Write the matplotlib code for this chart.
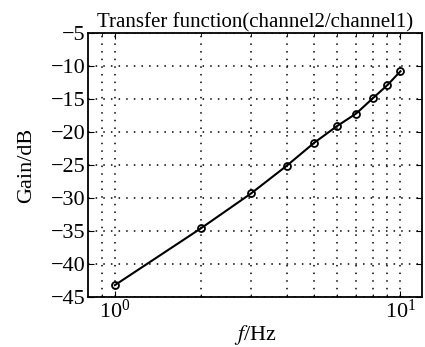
import numpy as np
import matplotlib
matplotlib.use("Agg")
import matplotlib.pyplot as plt
from matplotlib.ticker import LogLocator, NullFormatter

# frequency points (Hz) and measured gain (dB)
freq = [1, 2, 3, 4, 5, 6, 7, 8, 9, 10]
gain = [-43.2, -34.6, -29.3, -25.1, -21.6, -19.1, -17.2, -14.9, -12.9, -10.8]
yticks = [-45, -40, -35, -30, -25, -20, -15, -10, -5]

plt.rcParams["font.family"] = ["Liberation Serif", "DejaVu Serif"]
plt.rcParams["mathtext.fontset"] = "stix"
plt.rcParams["axes.unicode_minus"] = True

fig = plt.figure(figsize=(4.25, 3.47), dpi=100, facecolor="w")
ax = fig.add_axes([0.207, 0.144, 0.786, 0.761])

ax.plot(freq, gain, color="k", lw=1.5, marker="o", ms=5, mfc="none", mec="k", mew=1.3)

ax.set_xscale("log")
ax.set_xlim(0.805, 11.9)
ax.set_ylim(-45, -5)
ax.set_yticks(yticks)
ax.xaxis.set_minor_locator(LogLocator(base=10, subs=np.arange(2, 10)))
ax.xaxis.set_minor_formatter(NullFormatter())

ax.grid(which="major", color="k", linestyle=(0, (1, 4)), lw=1.1)
ax.grid(which="minor", axis="x", color="k", linestyle=(0, (1, 4)), lw=1.1)

ax.tick_params(which="both", direction="in", top=True, right=True, labelsize=16, pad=2)
ax.tick_params(which="major", length=4, width=0.8)
ax.tick_params(which="minor", length=2, width=0.6)
for s in ax.spines.values():
    s.set_linewidth(1.3)

ax.set_title("Transfer function(channel2/channel1)", fontsize=15, pad=2)
ax.set_xlabel("$f$/Hz", fontsize=16, labelpad=0)
ax.set_ylabel("Gain/dB", fontsize=16, labelpad=10)

fig.savefig("out.png", dpi=100)
